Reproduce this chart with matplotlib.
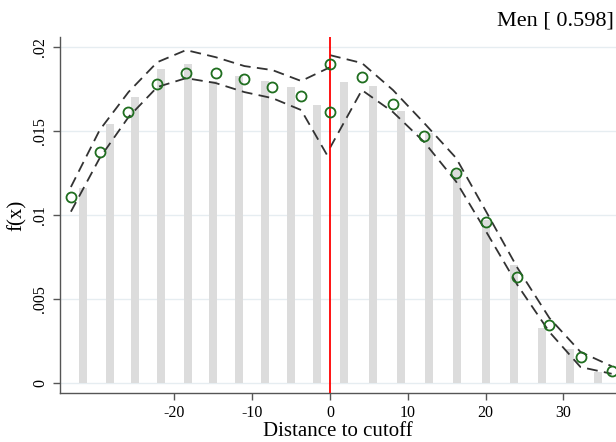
import matplotlib
matplotlib.use('Agg')
import matplotlib.pyplot as plt
import numpy as np

plt.rcParams['font.family'] = ['Liberation Serif', 'DejaVu Serif']
plt.rcParams['axes.unicode_minus'] = False

# histogram bars
bar_x = [-31.7, -28.3, -25.0, -21.7, -18.3, -15.0, -11.7, -8.3, -5.0, -1.67,
         1.8, 5.5, 9.1, 12.7, 16.3, 20.0, 23.6, 27.2, 30.9, 34.5]
bar_h = [0.0116, 0.0154, 0.0170, 0.0187, 0.0190, 0.0180, 0.0183, 0.0180, 0.0176, 0.01655,
         0.0179, 0.0177, 0.0162, 0.0149, 0.0127, 0.0097, 0.0070, 0.0033, 0.0020, 0.00065]

# density estimate, left of cutoff
left_x = [-33.3, -29.6, -25.9, -22.2, -18.5, -14.7, -11.0, -7.4, -3.7, 0.0]
left_f = [0.01107, 0.01375, 0.01613, 0.01778, 0.01845, 0.01845, 0.01810, 0.01765, 0.01708, 0.01613]
left_hi = [0.01167, 0.01506, 0.01732, 0.01910, 0.01982, 0.01940, 0.01887, 0.01863, 0.01798, 0.01880]
left_lo = [0.01020, 0.01339, 0.01583, 0.01762, 0.01815, 0.01786, 0.01732, 0.01696, 0.01625, 0.01327]

# density estimate, right of cutoff
right_x = [0.0, 4.1, 8.1, 12.1, 16.2, 20.1, 24.1, 28.2, 32.2, 36.2]
right_f = [0.01899, 0.01821, 0.01660, 0.01470, 0.01250, 0.00958, 0.00631, 0.00343, 0.00155, 0.00071]
right_hi = [0.01952, 0.01905, 0.01744, 0.01548, 0.01340, 0.01018, 0.00685, 0.00387, 0.00185, 0.00100]
right_lo = [0.01400, 0.01744, 0.01613, 0.01435, 0.01200, 0.00899, 0.00583, 0.00304, 0.00095, 0.00055]

fig = plt.figure(figsize=(6.16, 4.42), dpi=100)
ax = fig.add_axes([60/616, 49/442, 556/616, 356/442])

ax.set_axisbelow(True)
ax.yaxis.grid(True, color='#e6edf1', linewidth=1.0)

ax.bar(bar_x, bar_h, width=1.03, color='#dcdcdc', zorder=1)

dash = dict(color='#333333', linewidth=1.3, linestyle=(0, (6, 3.5)), zorder=3)
for xs, lo, hi in [(left_x, left_lo, left_hi), (right_x, right_lo, right_hi)]:
    ax.plot(xs, hi, **dash)
    ax.plot(xs, lo, **dash)

ax.axvline(0, color='red', linewidth=1.3, zorder=4)

for xs, fs in [(left_x, left_f), (right_x, right_f)]:
    ax.plot(xs, fs, 'o', markersize=7.2, markerfacecolor='none',
            markeredgecolor='#1f6e1f', markeredgewidth=1.3, zorder=5)

ax.set_xlim(-34.7, 36.76)
ax.set_ylim(-0.000595, 0.0206)
ax.set_xticks([-20, -10, 0, 10, 20, 30])
ax.set_yticks([0, 0.005, 0.01, 0.015, 0.02])
ax.set_yticklabels(['0', '.005', '.01', '.015', '.02'], rotation=90, va='center')

for s in ['top', 'right']:
    ax.spines[s].set_visible(False)
for s in ['left', 'bottom']:
    ax.spines[s].set_color('#555555')
    ax.spines[s].set_linewidth(1.0)
ax.tick_params(axis='both', direction='out', length=5, width=1.0,
               color='#555555', labelsize=11.5, labelcolor='black')

ax.set_xlabel('Distance to cutoff', fontsize=15, labelpad=1)
ax.set_ylabel('f(x)', fontsize=15, labelpad=4)

fig.text(0.997, 0.952, 'Men [ 0.598]', ha='right', va='center', fontsize=16)

fig.savefig('out.png', dpi=100)
